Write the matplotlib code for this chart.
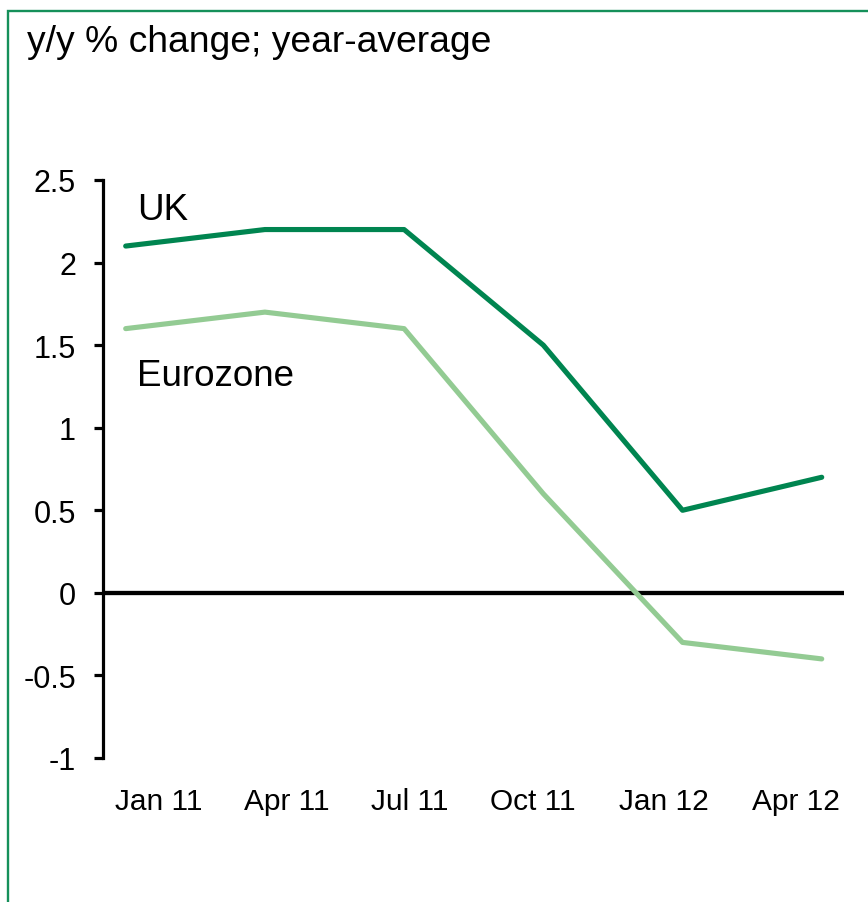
import matplotlib
matplotlib.use("Agg")
import matplotlib.pyplot as plt
from matplotlib.patches import Rectangle

plt.rcParams['font.family'] = ['Liberation Sans', 'DejaVu Sans']

# data
categories = ["Jan 11", "Apr 11", "Jul 11", "Oct 11", "Jan 12", "Apr 12"]
uk = [2.1, 2.2, 2.2, 1.5, 0.5, 0.7]
eurozone = [1.6, 1.7, 1.6, 0.6, -0.3, -0.4]
yticks = [-1, -0.5, 0, 0.5, 1, 1.5, 2, 2.5]
ytick_labels = ["-1", "-0.5", "0", "0.5", "1", "1.5", "2", "2.5"]

# label placement (layout only)
label_pos = [0.239, 1.159, 2.039, 2.922, 3.863, 4.815]

W, H = 868, 903
fig = plt.figure(figsize=(W / 100, H / 100), dpi=100)

# green frame (extends off the right/bottom edges)
fig.patches.append(Rectangle((8 / W, -0.05), 1.2, 1 - 11.5 / H + 0.05,
                             transform=fig.transFigure, fill=False,
                             edgecolor='#15905A', linewidth=1.7, zorder=0))

ax = fig.add_axes([103 / W, 1 - 759 / H, (844 - 103) / W, (759 - 181) / H])
x = list(range(len(categories)))
ax.plot(x, eurozone, color='#93CB93', linewidth=3.7, solid_capstyle='round', zorder=3)
ax.plot(x, uk, color='#008550', linewidth=3.7, solid_capstyle='round', zorder=4)
ax.axhline(0, color='black', linewidth=3.1, zorder=2)

ax.set_xlim(-0.163, 5.16)
ax.set_ylim(-1, 2.5)
ax.set_yticks(yticks)
ax.set_yticklabels(ytick_labels)
ax.set_xticks(label_pos)
ax.set_xticklabels(categories)

for s in ['top', 'right', 'bottom']:
    ax.spines[s].set_visible(False)
ax.spines['left'].set_linewidth(2.3)
ax.tick_params(axis='y', direction='out', length=6.5, width=2.3, pad=13,
               labelsize=22)
ax.tick_params(axis='x', length=0, pad=21, labelsize=21.5)

ax.text(0.08, 2.32, "UK", fontsize=26.5, va='center', ha='left')
ax.text(0.08, 1.315, "Eurozone", fontsize=26.5, va='center', ha='left')

fig.text(27 / W, 1 - 42 / H, "y/y % change; year-average", fontsize=26.8,
         va='center', ha='left')

fig.savefig("out.png", dpi=100)
